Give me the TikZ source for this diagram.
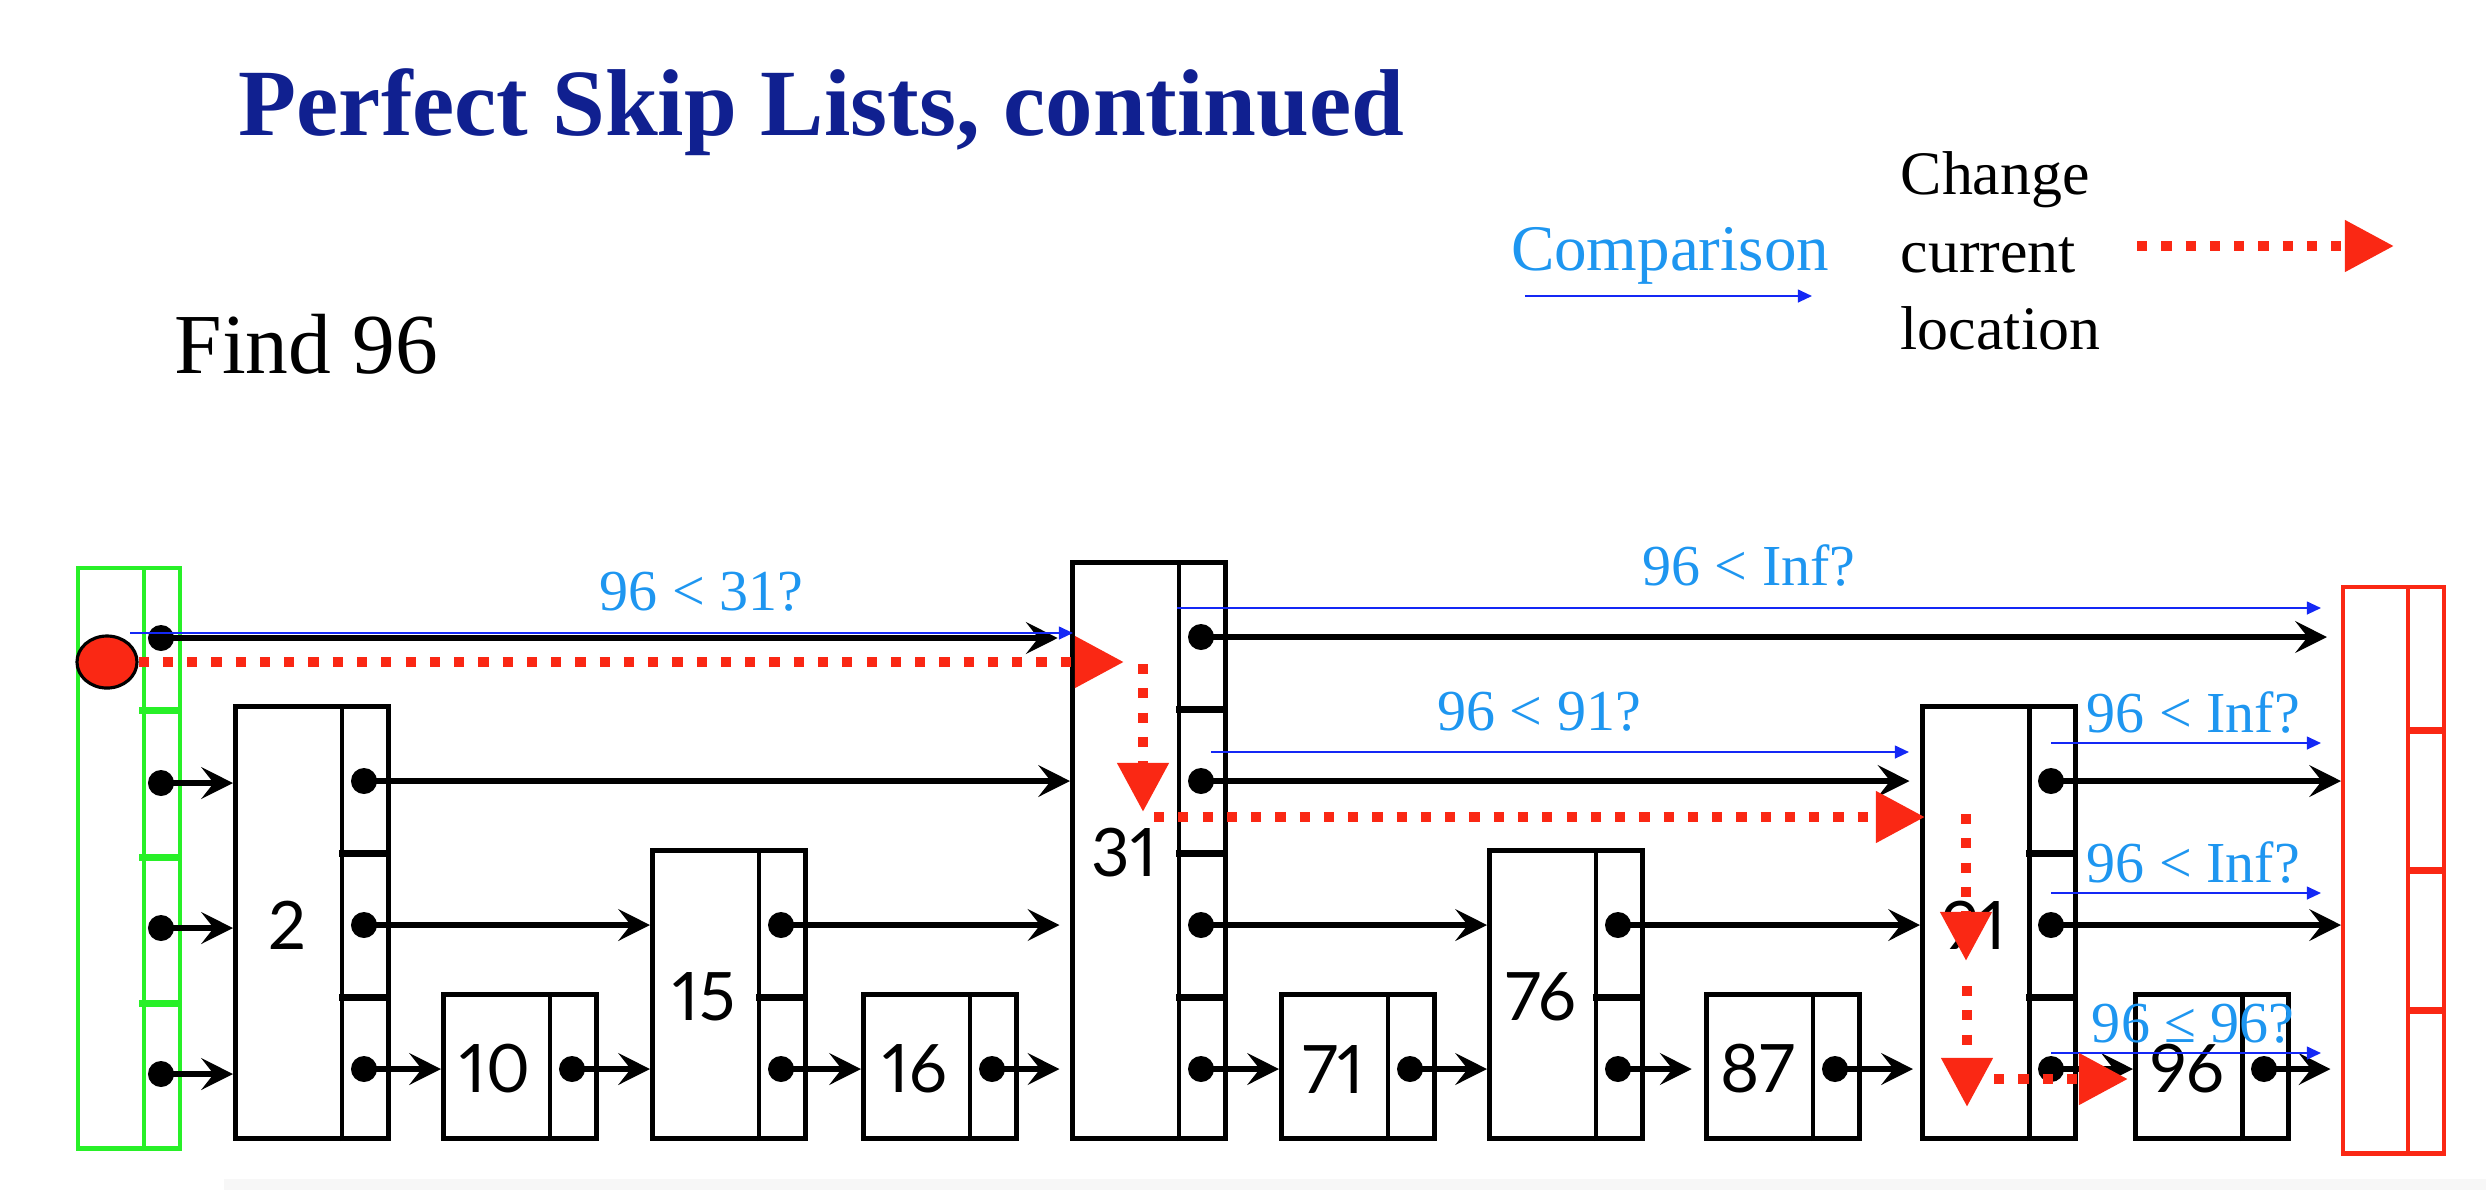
\documentclass[tikz,border=0pt]{standalone}
\usepackage{fontspec}
\setmainfont{Liberation Serif}
\newfontfamily\boxfont[Numbers=Proportional]{Lato}
\usepackage{tikz}
\usetikzlibrary{shapes.geometric, positioning, arrows.meta, calc}

\definecolor{titleblue}{RGB}{16,32,144}
\definecolor{cmpblue}{RGB}{20,40,245}
\definecolor{cmptext}{RGB}{30,150,240}
\definecolor{moved}{RGB}{250,40,20}
\definecolor{headgreen}{RGB}{40,240,40}

\begin{document}
\begin{tikzpicture}[x=0.01cm, y=-0.01cm]
    % Define block styles
    \tikzstyle{box} = [rectangle, draw, line width=1.4pt, minimum width=1.53cm, inner sep=0pt, anchor=south west]
    \tikzstyle{head} = [rectangle, draw=headgreen, line width=1.2pt, inner sep=0pt, anchor=north west]
    \tikzstyle{tail} = [rectangle, draw=moved, line width=1.2pt, inner sep=0pt, anchor=north west]
    \tikzstyle{key} = [inner sep=0pt, font=\boxfont\fontsize{19pt}{19pt}\selectfont]
    \tikzstyle{ptr} = [line width=1.5pt, -{Stealth[length=9pt, width=9pt, inset=3.5pt]}]
    \tikzstyle{cmp} = [draw=cmpblue, line width=0.6pt, -{Triangle[length=4pt, width=3.6pt]}]
    \tikzstyle{ask} = [text=cmptext, anchor=base, inner sep=0pt, font=\fontsize{16.5pt}{16.5pt}\selectfont]
    \tikzstyle{move} = [draw=moved, line width=3pt, dash pattern=on 2.9pt off 4pt, -{Triangle[length=14pt, width=14pt]}]

    \useasboundingbox (0,0) rectangle (2486,1190);
    \fill[gray!6] (224,1179) rectangle (2486,1190);

    % Title and legend
    \node[anchor=base west, inner sep=0pt, text=titleblue, font=\bfseries\fontsize{27pt}{27pt}\selectfont] (title) at (238,135) {Perfect Skip Lists, continued};
    \node[anchor=base west, inner sep=0pt, font=\fontsize{24.3pt}{24.3pt}\selectfont] (find) at (174,373) {Find 96};
    \node[ask, font=\fontsize{18.5pt}{18.5pt}\selectfont] (cmpkey) at (1670,270) {Comparison};
    \node[anchor=base west, align=left, inner sep=0pt, font=\fontsize{17.6pt}{21.9pt}\selectfont] (movekey) at (1900,349) {Change\\current\\location};
    \coordinate (cmpA) at (1525,296);
    \coordinate (cmpB) at (1812,296);
    \coordinate (movA) at (2137,246);
    \coordinate (movB) at (2394,246);
    \draw[cmp] (cmpA) -- (cmpB);
    \draw[move] (movA) -- (movB);

    % Head and tail
    \node[head, minimum width=1.02cm, minimum height=5.8cm] (head) at (76,566) {};
    \draw[headgreen, line width=1.2pt] (144,566) -- (144,1146);
    \foreach \y in {710,857,1003}
        \draw[headgreen, line width=2pt] (139,\y) -- (178,\y);
    \foreach \k/\y in {4/638,3/783,2/928,1/1074} {
        \coordinate (h\k) at (161,\y);
        \fill (h\k) circle (3.7pt);
    }
    \node[ellipse, draw, line width=0.9pt, fill=moved, minimum width=0.6cm, minimum height=0.52cm, inner sep=0pt] (cur) at (107,662) {};

    \node[tail, minimum width=1.01cm, minimum height=5.66cm] (tail) at (2341,585) {};
    \draw[moved, line width=1.2pt] (2408,585) -- (2408,1151);
    \foreach \y in {730,870,1010}
        \draw[moved, line width=2pt] (2408,\y) -- (2442,\y);

    % Blocks and nodes
    \foreach \nm/\x/\h in {2/233/3, 10/441/1, 15/650/2, 16/861/1, 31/1070/4, 71/1279/1, 76/1487/2, 87/1704/1, 91/1920/3, 96/2133/1} {
        \node[box, minimum height=\h*1.44cm] (n\nm) at (\x,1141) {};
        \draw[line width=1.4pt] (\x+109,1141) -- (\x+109,1141-144*\h);
        \node[key] (k\nm) at (\x+54,1141-72*\h) {\nm};
        \foreach \k in {1,...,\h} {
            \coordinate (n\nm-\k) at (\x+131,1141-144*\k+72);
            \fill (n\nm-\k) circle (3.7pt);
            \ifnum\k<\h \draw[line width=2pt] (\x+106,1141-144*\k) -- (\x+153,1141-144*\k); \fi
        }
    }

    % Connections
    \draw[ptr, shorten >=3.5pt] (h4) -- (h4 -| n31.west);
    \draw[ptr] (h3) -- (h3 -| n2.west);
    \draw[ptr] (h2) -- (h2 -| n2.west);
    \draw[ptr] (h1) -- (h1 -| n2.west);
    \draw[ptr] (n2-3) -- (n2-3 -| n31.west);
    \draw[ptr] (n2-2) -- (n2-2 -| n15.west);
    \draw[ptr] (n2-1) -- (n2-1 -| n10.west);
    \draw[ptr] (n10-1) -- (n10-1 -| n15.west);
    \draw[ptr, shorten >=3pt] (n15-2) -- (n15-2 -| n31.west);
    \draw[ptr] (n15-1) -- (n15-1 -| n16.west);
    \draw[ptr, shorten >=3pt] (n16-1) -- (n16-1 -| n31.west);
    \draw[ptr, shorten >=4pt] (n31-4) -- (n31-4 -| tail.west);
    \draw[ptr, shorten >=3pt] (n31-3) -- (n31-3 -| n91.west);
    \draw[ptr] (n31-2) -- (n31-2 -| n76.west);
    \draw[ptr] (n31-1) -- (n31-1 -| n71.west);
    \draw[ptr] (n71-1) -- (n71-1 -| n76.west);
    \draw[ptr] (n76-2) -- (n76-2 -| n91.west);
    \draw[ptr, shorten >=3.5pt] (n76-1) -- (n76-1 -| n87.west);
    \draw[ptr, shorten >=2pt] (n87-1) -- (n87-1 -| n91.west);
    \draw[ptr] (n91-3) -- (n91-3 -| tail.west);
    \draw[ptr] (n91-2) -- (n91-2 -| tail.west);
    \draw[ptr] (n91-1) -- (n91-1 -| n96.west);
    \draw[ptr, shorten >=3pt] (n96-1) -- (n96-1 -| tail.west);

    % Comparisons
    \draw[cmp] ($(h4)+(-31,-5)$) -- ($(h4 -| n31.west)+(3,-5)$) node[ask, pos=0.606, yshift=6.5pt] (q1) {96 < 31?};
    \draw[cmp] ($(n31-4)+(-24,-29)$) -- ($(n31-4 -| tail.west)+(-20,-29)$) node[ask, pos=0.5, yshift=6.5pt] (q2) {96 < Inf?};
    \draw[cmp] ($(n31-3)+(10,-29)$) -- ($(n31-3 -| n91.west)+(-11,-29)$) node[ask, pos=0.47, yshift=6pt] (q3) {96 < 91?};
    \draw[cmp] ($(n91-3)+(0,-38)$) -- ($(n91-3 -| tail.west)+(-20,-38)$) node[ask, pos=0.527, yshift=3pt] (q4) {96 < Inf?};
    \draw[cmp] ($(n91-2)+(0,-32)$) -- ($(n91-2 -| tail.west)+(-20,-32)$) node[ask, pos=0.527, yshift=3pt] (q5) {96 < Inf?};
    \draw[cmp] ($(n91-1)+(0,-16)$) -- ($(n91-1 -| tail.west)+(-20,-16)$) node[ask, pos=0.527, yshift=3pt] (q6) {96 ≤ 96?};

    % Moves of the current location
    \coordinate (p1) at (1124,662);
    \coordinate (p2a) at (1143,664);
    \coordinate (p2b) at (1143,812);
    \coordinate (p3a) at (1154,817);
    \coordinate (p3b) at (1925,817);
    \coordinate (p4a) at (1966,814);
    \coordinate (p4b) at (1966,961);
    \coordinate (p5a) at (1967,986);
    \coordinate (p5b) at (1967,1107);
    \coordinate (p6a) at (1994,1079);
    \coordinate (p6b) at (2128,1079);
    \draw[move] (cur.east) -- (p1);
    \draw[move] (p2a) -- (p2b);
    \draw[move] (p3a) -- (p3b);
    \draw[move] (p4a) -- (p4b);
    \draw[move] (p5a) -- (p5b);
    \draw[move] (p6a) -- (p6b);
\end{tikzpicture}
\end{document}
